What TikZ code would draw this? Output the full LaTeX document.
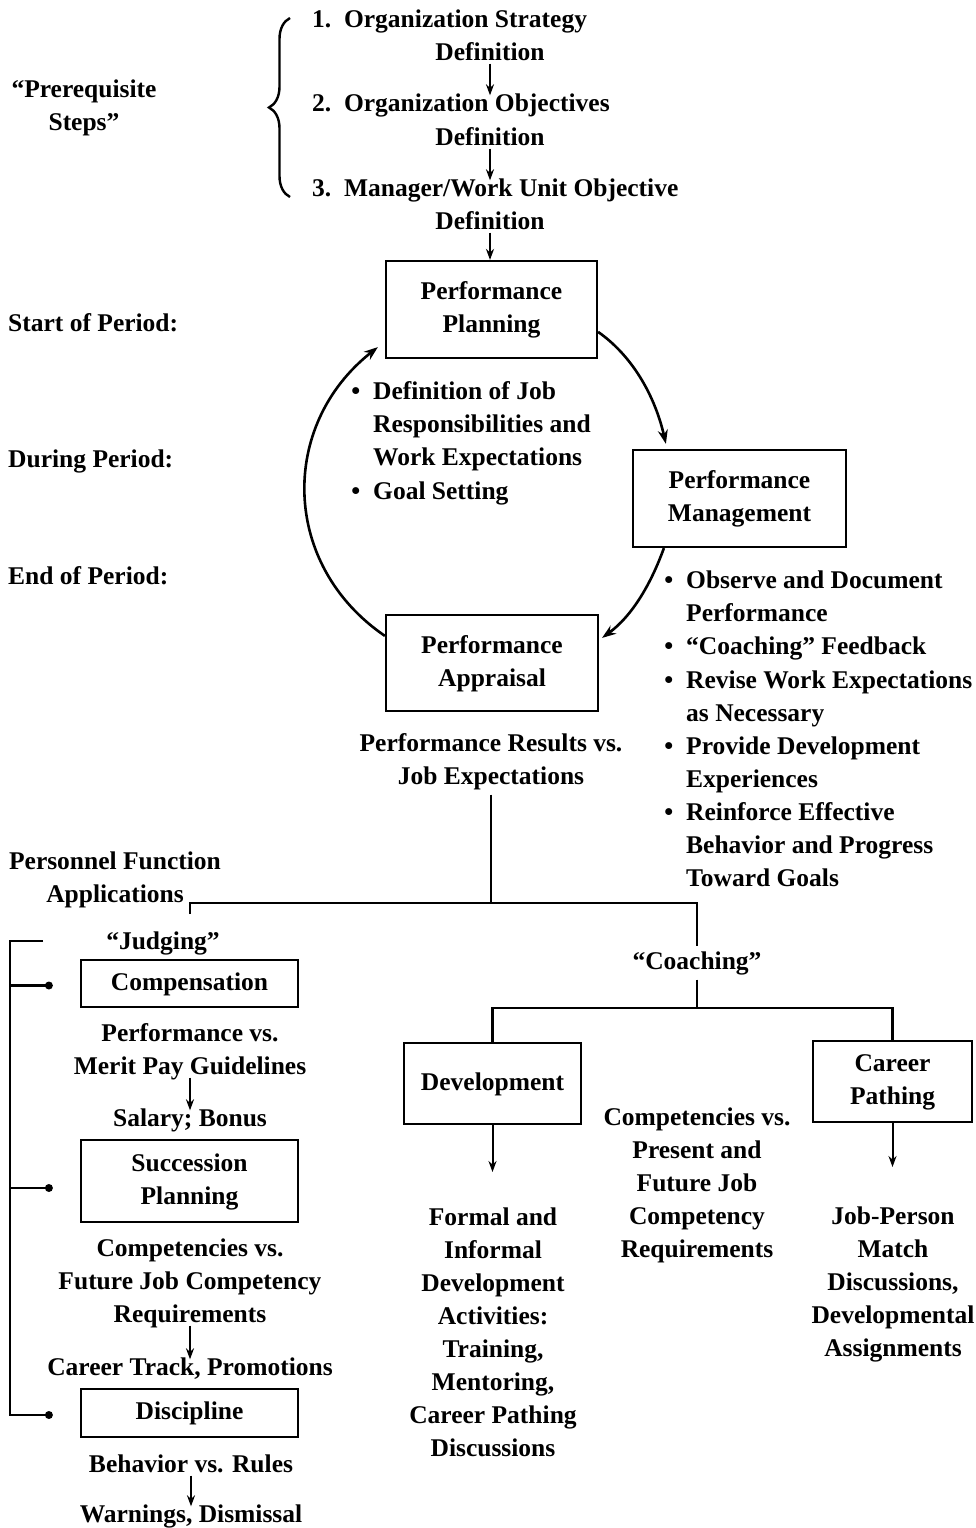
\documentclass[tikz,border=0pt]{standalone}
\usepackage{fontspec}
\setmainfont{Liberation Serif}
\usetikzlibrary{arrows.meta,decorations.pathreplacing,calc}

\begin{document}
\begin{tikzpicture}[x=1pt,y=-1pt,
  every node/.style={inner sep=0pt, font=\bfseries\fontsize{25.5}{33}\selectfont},
  txt/.style={align=center, execute at begin node=\strut, execute at end node=\strut},
  ltxt/.style={align=left, anchor=west, execute at begin node=\strut, execute at end node=\strut},
  item/.style={align=left, anchor=north west},
  box/.style={draw, line width=2.2pt, align=center, execute at begin node=\strut, execute at end node=\strut},
  ln/.style={line width=2.2pt},
  sarr/.style={line width=2pt, -{Stealth[length=11pt,width=8pt]}, shorten <=-7pt, shorten >=-7pt},
  carr/.style={line width=2.6pt, -{Stealth[length=14pt,width=10pt]}},
  dot/.style={circle, fill, minimum size=8pt, inner sep=0pt}
]
\newcommand{\bul}{\llap{\textbullet\hspace{13pt}}\strut}
\useasboundingbox (0,0) rectangle (976,1528);

% prerequisite steps
\node[txt] (pre) at (84,107) {\strut``Prerequisite\\Steps''};
\coordinate (bracetop) at (290,18);
\coordinate (bracebot) at (290,197);
\draw[line width=2.4pt, decorate, decoration={brace, amplitude=21pt}] (bracebot) -- (bracetop);

\node[ltxt] (s1) at (312,21) {1.\enspace Organization Strategy};
\node[txt] (s1b) at (490,54) {Definition};
\node[ltxt] (s2) at (312,105) {2.\enspace Organization Objectives};
\node[txt] (s2b) at (490,139) {Definition};
\node[ltxt] (s3) at (312,190) {3.\enspace Manager/Work Unit Objective};
\node[txt] (s3b) at (490,223) {Definition};

% period labels
\node[ltxt] (start) at (8,325) {Start of Period:};
\node[ltxt] (during) at (8,461) {During Period:};
\node[ltxt] (endp) at (8,578) {End of Period:};

% the performance cycle
\node[box, minimum width=211pt, minimum height=97pt] (pp) at (491.5,309.5) {\strut Performance\\Planning};
\node[box, minimum width=213pt, minimum height=97pt] (pm) at (739.5,498.5) {\strut Performance\\Management};
\node[box, minimum width=212pt, minimum height=96pt] (pa) at (492,663) {\strut Performance\\Appraisal};

\draw[sarr] (s1b.south) -- (s1b.south |- s2.north);
\draw[sarr] (s2b.south) -- (s2b.south |- s3.north);
\draw[sarr, shorten >=0pt] (s3b.south) -- (s3b.south |- pp.north);

\coordinate (a1s) at ($(pa.north west)+(0,22)$);
\coordinate (a1e) at ($(pp.south west)+(-7,-12)$);
\coordinate (a2s) at ($(pp.north east)+(0,72)$);
\coordinate (a2e) at ($(pm.north west)+(34,-5)$);
\coordinate (a3s) at ($(pm.south west)+(32,0)$);
\coordinate (a3e) at ($(pa.north east)+(3,24)$);
\draw[carr] (a1s) .. controls +(-104,-71) and +(-99,78) .. (a1e);
\draw[carr] (a2s) .. controls +(37,26) and +(-10,-44) .. (a2e);
\draw[carr] (a3s) .. controls +(-13,36) and +(30,-22) .. (a3e);

\node[item] (pl1) at (373,376) {\bul Definition of Job\\Responsibilities and\\Work Expectations\strut};
\node[item] (pl2) at (373,476) {\bul Goal Setting\strut};

\node[item] (pm1) at (686,565) {\bul Observe and Document\\Performance\strut};
\node[item] (pm2) at (686,631) {\bul ``Coaching'' Feedback\strut};
\node[item] (pm3) at (686,665) {\bul Revise Work Expectations\\as Necessary\strut};
\node[item] (pm4) at (686,731) {\bul Provide Development\\Experiences\strut};
\node[item] (pm5) at (686,797) {\bul Reinforce Effective\\Behavior and Progress\\Toward Goals\strut};

\node[txt] (res) at (491,761.5) {\strut Performance Results vs.\\Job Expectations};

% personnel function applications
\node[txt] (pf) at (115,879.5) {\strut Personnel Function\\Applications};
\node[txt] (judging) at (163,943) {``Judging''};
\node[txt] (coaching) at (697,963) {``Coaching''};

\coordinate (hub) at (491,903);
\coordinate (jl) at (190,903);
\coordinate (jlb) at (190,914);
\coordinate (cr) at (697,903);
\draw[ln] (res.south) -- (hub);
\draw[ln] (jlb) -- (jl) -- (cr) -- (coaching.north);

% judging branch
\node[box, minimum width=217pt, minimum height=47pt] (comp) at (189.5,983.5) {Compensation};
\node[txt] (compin) at (190,1051.5) {\strut Performance vs.\\Merit Pay Guidelines};
\node[txt] (compout) at (190,1120) {Salary; Bonus};
\draw[sarr] (compin.south) -- (compout.north);

\node[box, minimum width=217pt, minimum height=82pt] (succ) at (189.5,1181) {\strut Succession\\Planning};
\node[txt] (succin) at (190,1283) {\strut Competencies vs.\\Future Job Competency\\Requirements};
\node[txt] (succout) at (190,1369) {Career Track, Promotions};
\draw[sarr] (succin.south) -- (succout.north);

\node[box, minimum width=217pt, minimum height=48pt] (disc) at (189.5,1413) {Discipline};
\node[txt] (discin) at (191,1466) {Behavior vs. Rules};
\node[txt] (discout) at (191,1516) {Warnings, Dismissal};
\draw[sarr] (discin.south) -- (discout.north);

\coordinate (bt) at (10,941);
\coordinate (btr) at (43,941);
\coordinate (k1) at ($(comp.west)+(-31,2)$);
\coordinate (k2) at ($(succ.west)+(-31,7)$);
\coordinate (k3) at ($(disc.west)+(-31,2)$);
\draw[ln] (btr) -- (bt) |- (k3);
\draw[ln] (bt |- k1) -- (k1);
\draw[ln] (bt |- k2) -- (k2);
\node[dot] (d1) at (k1) {};
\node[dot] (d2) at (k2) {};
\node[dot] (d3) at (k3) {};

% coaching branch
\node[box, minimum width=177pt, minimum height=81pt] (dev) at (492.5,1083.5) {Development};
\node[box, minimum width=159pt, minimum height=81pt] (car) at (892.5,1081.5) {\strut Career\\Pathing};
\coordinate (ch) at (697,1008);
\draw[ln] (coaching.south) -- (ch);
\draw[ln] (dev.north) -- (dev.north |- ch) -- (car.north |- ch) -- (car.north);

\node[txt] (compet) at (697,1184.6) {\strut Competencies vs.\\Present and\\Future Job\\Competency\\Requirements};

\coordinate (devend) at (492.5,1172);
\coordinate (carend) at (892.5,1167);
\draw[sarr, shorten <=0pt, shorten >=0pt] (dev.south) -- (devend);
\draw[sarr, shorten <=0pt, shorten >=0pt] (car.south) -- (carend);

\node[txt] (devtext) at (493,1334.5) {\strut Formal and\\Informal\\Development\\Activities:\\Training,\\Mentoring,\\Career Pathing\\Discussions};
\node[txt] (cartext) at (893,1284.2) {\strut Job-Person\\Match\\Discussions,\\Developmental\\Assignments};

\end{tikzpicture}
\end{document}
